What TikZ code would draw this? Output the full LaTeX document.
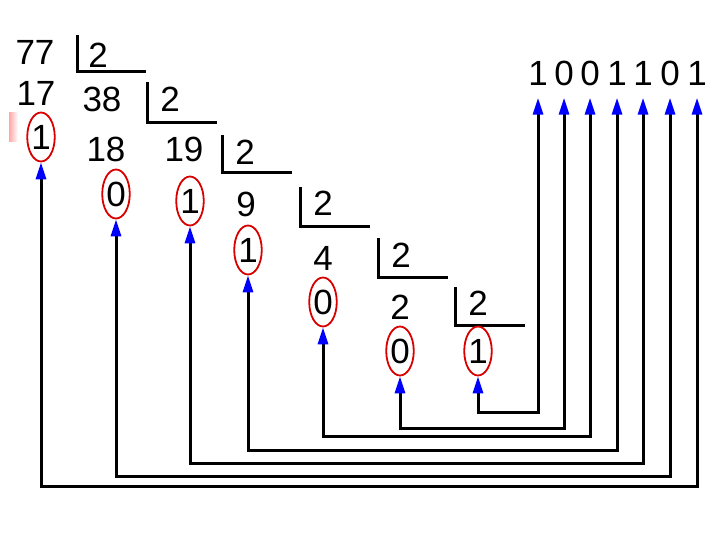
\documentclass[tikz,border=0pt]{standalone}
\usepackage{fontspec}
\setmainfont{Liberation Sans}
\usetikzlibrary{shapes.geometric,arrows.meta}
\begin{document}
\begin{tikzpicture}[x=1pt,y=-1pt,
 num/.style={font=\fontsize{35}{35}\selectfont, inner sep=0pt, text height=25pt, text depth=0pt},
 rem/.style={num, ellipse, draw=red!85!black, line width=1.8pt, minimum width=27pt, minimum height=49pt},
 brk/.style={line width=3pt},
 conn/.style={line width=3pt, {Triangle[length=17pt,width=10pt,color=blue]}-{Triangle[length=17pt,width=10pt,color=blue]}, shorten >=12pt},
]
\useasboundingbox (0,0) rectangle (720,540);
\fill[white] (0,0) rectangle (720,540);
% faint mark
\shade[left color=red!35, right color=white] (9,113) rectangle (18,142);
% dividends and divisors
\node[num] (n77) at (35,52) {77};
\node[num] (d1) at (98,55) {2};
\node[num] (n17) at (36,93) {17};
\node[num] (n38) at (102,99) {38};
\node[num] (d2) at (170,99) {2};
\node[num] (n18) at (106,149) {18};
\node[num] (n19) at (184,149) {19};
\node[num] (d3) at (245,152) {2};
\node[num] (n9) at (246,204) {9};
\node[num] (d4) at (323,203) {2};
\node[num] (n4) at (323,258) {4};
\node[num] (d5) at (401,255) {2};
\node[num] (n2) at (400,307) {2};
\node[num] (d6) at (478,303) {2};
% brackets
\draw[brk] (77,35) -- (77,72) -- (146,72);
\draw[brk] (147,82) -- (147,123) -- (217,123);
\draw[brk] (222,135) -- (222,173) -- (292,173);
\draw[brk] (300,187) -- (300,227) -- (370,227);
\draw[brk] (378,238) -- (378,277) -- (448,277);
\draw[brk] (455,287) -- (455,325) -- (525,325);
% remainders
\node[rem] (r1) at (41,137) {1};
\node[rem] (r2) at (116,194) {0};
\node[rem] (r3) at (190,201) {1};
\node[rem] (r4) at (248,250) {1};
\node[rem] (r5) at (323,302) {0};
\node[rem] (r6) at (400,351) {0};
\node[rem] (r7) at (478,351) {1};
% result
\node[num] (b1) at (538,73) {1};
\node[num] (b2) at (564,73) {0};
\node[num] (b3) at (590,73) {0};
\node[num] (b4) at (617,73) {1};
\node[num] (b5) at (643,73) {1};
\node[num] (b6) at (670,73) {0};
\node[num] (b7) at (697,73) {1};
% connectors
\draw[conn] (r7.south) -- (r7.south |- 0,412) -| (b1.south);
\draw[conn] (r6.south) -- (r6.south |- 0,428) -| (b2.south);
\draw[conn] (r5.south) -- (r5.south |- 0,436) -| (b3.south);
\draw[conn] (r4.south) -- (r4.south |- 0,450) -| (b4.south);
\draw[conn] (r3.south) -- (r3.south |- 0,463) -| (b5.south);
\draw[conn] (r2.south) -- (r2.south |- 0,476) -| (b6.south);
\draw[conn] (r1.south) -- (r1.south |- 0,486) -| (b7.south);
\end{tikzpicture}
\end{document}
